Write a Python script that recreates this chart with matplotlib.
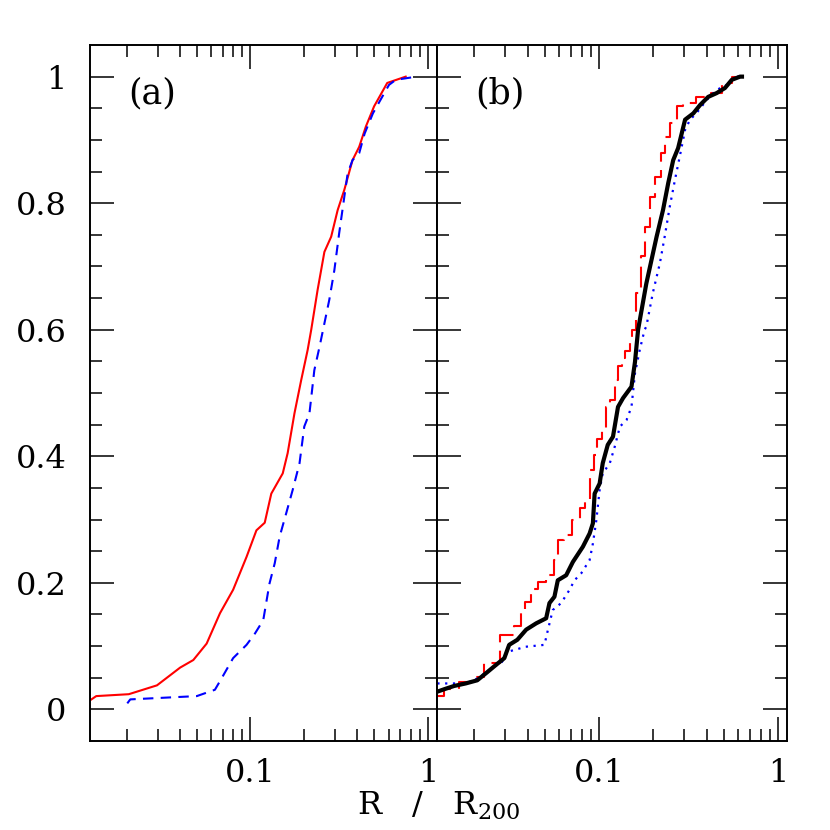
import numpy as np
import matplotlib.pyplot as plt
from matplotlib.ticker import FixedLocator, LogLocator, NullFormatter

plt.rcParams['font.family'] = ['DejaVu Serif']
plt.rcParams['mathtext.fontset'] = 'dejavuserif'

# panel (a): cumulative fractions vs R/R200
a_red_r = [0.01256, 0.0135, 0.0206, 0.0297, 0.0401, 0.0476, 0.0566, 0.0673, 0.0798,
           0.095, 0.108, 0.1203, 0.131, 0.152, 0.162, 0.177, 0.193, 0.21, 0.22, 0.239,
           0.261, 0.285, 0.31, 0.338, 0.376, 0.41, 0.447, 0.4975, 0.59, 0.75]
a_red_f = [0.015, 0.021, 0.024, 0.038, 0.066, 0.078, 0.104, 0.152, 0.189,
           0.241, 0.283, 0.295, 0.341, 0.373, 0.405, 0.468, 0.52, 0.568, 0.60, 0.663,
           0.723, 0.747, 0.789, 0.821, 0.868, 0.889, 0.921, 0.953, 0.99, 1.0]

a_blue_r = [0.0202, 0.021, 0.0498, 0.063, 0.0687, 0.0798, 0.095, 0.106, 0.118, 0.128,
            0.137, 0.146, 0.159, 0.173, 0.189, 0.201, 0.215, 0.229, 0.245, 0.261,
            0.278, 0.297, 0.316, 0.338, 0.353, 0.376, 0.41, 0.44, 0.49, 0.54, 0.604,
            0.66, 0.866]
a_blue_f = [0.0095, 0.0158, 0.021, 0.031, 0.049, 0.081, 0.102, 0.12, 0.141, 0.199,
            0.231, 0.273, 0.31, 0.347, 0.389, 0.447, 0.468, 0.536, 0.573, 0.61,
            0.647, 0.694, 0.752, 0.81, 0.847, 0.868, 0.879, 0.91, 0.942, 0.963, 0.987,
            0.995, 1.0]

# panel (b)
b_black_r = [0.0125, 0.0137, 0.0155, 0.018, 0.0209, 0.0238, 0.0265, 0.0296, 0.0315,
             0.035, 0.0392, 0.0446, 0.0507, 0.0529, 0.0564, 0.0589, 0.0656, 0.0715,
             0.0813, 0.0887, 0.0925, 0.0946, 0.1009, 0.105, 0.112, 0.1198, 0.1278,
             0.1364, 0.152, 0.159, 0.1655, 0.184, 0.21, 0.228, 0.244, 0.26, 0.277,
             0.303, 0.337, 0.367, 0.408, 0.455, 0.506, 0.553, 0.615, 0.63]
b_black_f = [0.028, 0.032, 0.037, 0.041, 0.046, 0.059, 0.07, 0.081, 0.102,
             0.11, 0.126, 0.136, 0.144, 0.168, 0.178, 0.204, 0.212, 0.233,
             0.257, 0.278, 0.294, 0.341, 0.357, 0.389, 0.418, 0.431, 0.478,
             0.492, 0.51, 0.549, 0.60, 0.673, 0.747, 0.789, 0.832, 0.868, 0.887,
             0.932, 0.942, 0.955, 0.968, 0.974, 0.982, 0.995, 1.0, 1.0]

b_red_r = [0.0125, 0.0149, 0.018, 0.021, 0.0243, 0.0315, 0.0357, 0.0375, 0.04,
           0.0436, 0.0475, 0.054, 0.0577, 0.0602, 0.067, 0.0747, 0.0813, 0.0868,
           0.0925, 0.0946, 0.1009, 0.1076, 0.112, 0.1198, 0.125, 0.131, 0.1364,
           0.145, 0.152, 0.156, 0.1655, 0.176, 0.188, 0.2, 0.214, 0.228, 0.239,
           0.26, 0.283, 0.31, 0.39, 0.455, 0.52, 0.594, 0.65]
b_red_f = [0.021, 0.032, 0.043, 0.051, 0.073, 0.117, 0.131, 0.157, 0.17,
           0.191, 0.202, 0.212, 0.236, 0.268, 0.276, 0.299, 0.318, 0.331,
           0.378, 0.402, 0.428, 0.441, 0.478, 0.489, 0.52, 0.542, 0.555,
           0.567, 0.579, 0.60, 0.658, 0.716, 0.763, 0.81, 0.842, 0.879, 0.905,
           0.926, 0.953, 0.958, 0.968, 0.974, 0.99, 1.0, 1.0]

b_blue_r = [0.0125, 0.018, 0.021, 0.0243, 0.0287, 0.0309, 0.039, 0.0496, 0.0518,
            0.0552, 0.0615, 0.0685, 0.073, 0.0796, 0.0887, 0.0925, 0.0967, 0.1009,
            0.105, 0.115, 0.1225, 0.131, 0.1425, 0.152, 0.159, 0.169, 0.18, 0.184,
            0.2, 0.219, 0.233, 0.249, 0.266, 0.283, 0.303, 0.323, 0.35, 0.4, 0.455,
            0.52, 0.575, 0.6]
b_blue_f = [0.041, 0.041, 0.049, 0.062, 0.075, 0.091, 0.099, 0.102, 0.125,
            0.157, 0.168, 0.189, 0.204, 0.215, 0.236, 0.262, 0.299, 0.347,
            0.373, 0.389, 0.415, 0.447, 0.457, 0.478, 0.531, 0.568, 0.60, 0.605,
            0.658, 0.705, 0.747, 0.795, 0.837, 0.874, 0.916, 0.932, 0.942, 0.963,
            0.979, 0.987, 1.0, 1.0]

XMIN, XMAX = 10**-1.905, 10**0.051
YMIN, YMAX = -0.05, 1.05

fig = plt.figure(figsize=(8.3, 8.3), dpi=100)
ax_a = fig.add_axes([0.1084, 0.1072, 0.418, 0.8386])
ax_b = fig.add_axes([0.5265, 0.1072, 0.4217, 0.8386])

ax_a.plot(a_red_r, a_red_f, color='#ff0000', lw=1.5)
ax_a.plot(a_blue_r, a_blue_f, color='#0000ff', lw=1.5, ls=(0, (5, 3.5)))

# red in (b) is drawn as a staircase, like the cumulative histogram in the original
ax_b.plot(b_red_r, b_red_f, color='#ff0000', lw=1.5, ls=(0, (10, 4)),
          drawstyle='steps-mid')
ax_b.plot(b_blue_r, b_blue_f, color='#0000ff', lw=1.6, ls=(0, (1, 2.5)))
ax_b.plot(b_black_r, b_black_f, color='black', lw=3)

for ax, lab in [(ax_a, '(a)'), (ax_b, '(b)')]:
    ax.set_xscale('log')
    ax.set_xlim(XMIN, XMAX)
    ax.set_ylim(YMIN, YMAX)
    ax.xaxis.set_major_locator(FixedLocator([0.1, 1]))
    ax.xaxis.set_minor_locator(LogLocator(base=10, subs=np.arange(2, 10)))
    ax.xaxis.set_minor_formatter(NullFormatter())
    ax.set_xticklabels(['0.1', '1'])
    ax.set_yticks([0, 0.2, 0.4, 0.6, 0.8, 1.0])
    ax.set_yticks(np.arange(0, 1.01, 0.05), minor=True)
    ax.tick_params(which='both', direction='in', top=True, right=True,
                   width=1.1, labelsize=23, colors='black')
    ax.tick_params(which='major', length=17)
    ax.tick_params(which='minor', length=8.5)
    ax.tick_params(axis='x', pad=12)
    ax.tick_params(axis='y', pad=17)
    for s in ax.spines.values():
        s.set_linewidth(1.4)
    ax.text(0.11, 0.93, lab, transform=ax.transAxes, fontsize=25,
            va='center', ha='left')

ax_a.set_yticklabels(['0', '0.2', '0.4', '0.6', '0.8', '1'])
ax_b.tick_params(axis='y', labelleft=False)

fig.text(0.529, 0.029, r'R   /   R$_{200}$', fontsize=23, ha='center', va='center')

fig.savefig('out.png', dpi=100)
